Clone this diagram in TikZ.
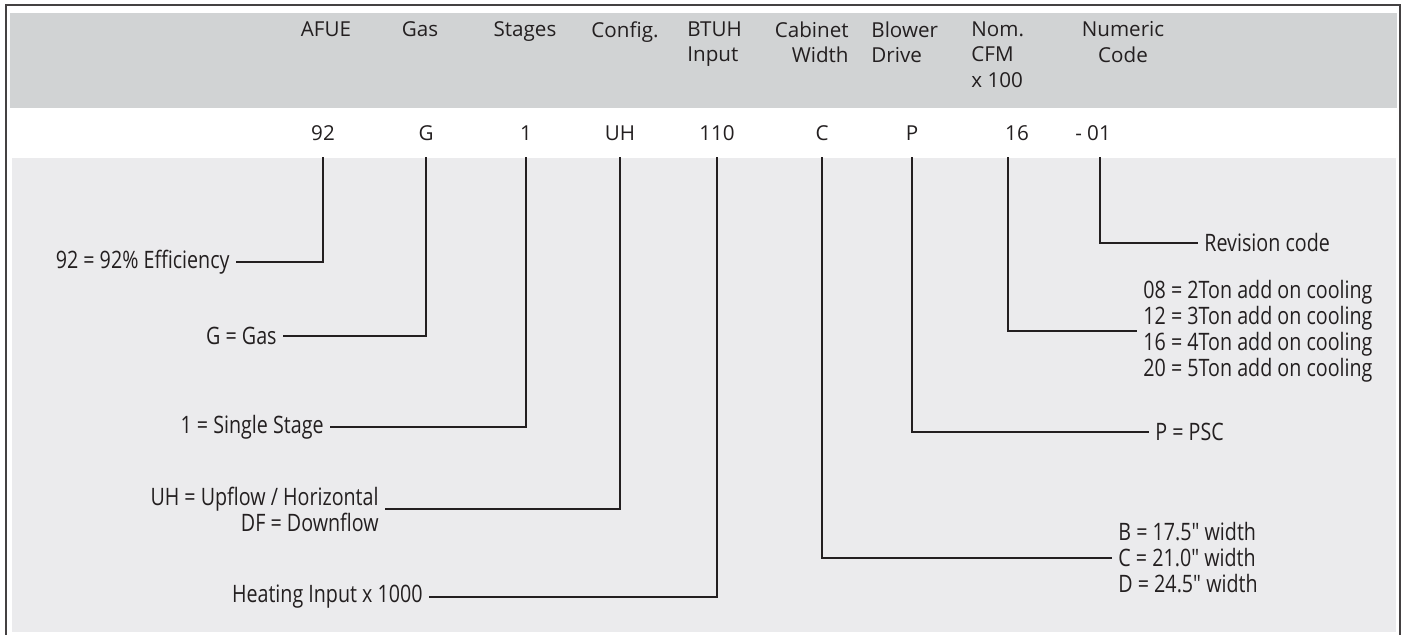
\documentclass[tikz,border=0pt]{standalone}
\usepackage{fontspec}
\setmainfont{Open Sans}
\newfontfamily\narrowfont[FakeStretch=0.82]{Open Sans}
\definecolor{headgray}{HTML}{D1D3D4}
\definecolor{bodygray}{HTML}{EBEBED}
\definecolor{ink}{HTML}{231F20}
\begin{document}
\begin{tikzpicture}[x=0.5pt,y=-0.5pt,
		head/.style={anchor=north,inner sep=0pt,text=ink,font=\fontsize{10.3}{12.8}\selectfont},
		code/.style={inner sep=0pt,minimum height=24pt,text=ink,font=\fontsize{10.3}{12}\selectfont},
		note/.style={inner sep=3pt,text=ink,font=\narrowfont\fontsize{12}{13}\selectfont},
		lead/.style={draw=ink,line width=1.2pt}]
			\useasboundingbox (0,0) rectangle (1406,635);
			\fill [headgray] (10,13) rectangle (1397,108);
			\fill [bodygray] (12,158) rectangle (1396,632);
			\draw [ink!85,line width=1.1pt] (6,635) -- (6,5) -- (1400,5) -- (1400,635);
			\node [head] (hAFUE) at (326,21) {AFUE};
			\node [head] (hGas) at (420,21) {Gas};
			\node [head] (hStages) at (525,21) {Stages};
			\node [head] (hConfig) at (625,21) {Config.};
			\node [head,anchor=north west,align=left] (hBTUH) at (687,21) {BTUH\\Input};
			\node [head,anchor=north east,align=right] (hCab) at (849,21) {Cabinet\\Width};
			\node [head,anchor=north west,align=left] (hBlower) at (871,21) {Blower\\Drive};
			\node [head,anchor=north west,align=left] (hNom) at (971,21) {Nom.\\CFM\\x 100};
			\node [head,align=center] (hNum) at (1123,21) {Numeric\\Code};
			\node [code] (c92) at (323,133) {92};
			\node [code] (cG) at (426,133) {G};
			\node [code] (c1) at (526,133) {1};
			\node [code] (cUH) at (620,133) {UH};
			\node [code] (c110) at (717,133) {110};
			\node [code] (cC) at (822,133) {C};
			\node [code] (cP) at (912,133) {P};
			\node [code] (c16) at (1017,133) {16};
			\node [code] (c01) at (1093,133) {- 01};
			\node [note,anchor=east] (l92) at (236,262) {92 = 92\% Efficiency};
			\node [note,anchor=east] (lG) at (283,336) {G = Gas};
			\node [note,anchor=east] (l1) at (330,427) {1 = Single Stage};
			\node [note,anchor=east,align=right] (lUH) at (385,509) {UH = Upflow / Horizontal\\DF = Downflow};
			\node [note,anchor=east] (l110) at (429,597) {Heating Input x 1000};
			\node [note,anchor=west,align=left] (lC) at (1112,558) {B = 17.5" width\\C = 21.0" width\\D = 24.5" width};
			\node [note,anchor=west] (lP) at (1149,432) {P = PSC};
			\node [note,anchor=west,align=left] (l16) at (1137,331) {08 = 2Ton add on cooling\\12 = 3Ton add on cooling\\16 = 4Ton add on cooling\\20 = 5Ton add on cooling};
			\node [note,anchor=west] (l01) at (1198,243) {Revision code};
			\draw [lead] (c92.south) |- (l92.east);
			\draw [lead] (cG.south) |- (lG.east);
			\draw [lead] (c1.south) |- (l1.east);
			\draw [lead] (cUH.south) |- (lUH.east);
			\draw [lead] (c110.south) |- (l110.east);
			\draw [lead] (cC.south) |- (lC.west);
			\draw [lead] (cP.south) |- (lP.west);
			\draw [lead] ([xshift=-4.5pt]c16.south) |- (l16.west);
			\draw [lead] ([xshift=3.5pt]c01.south) |- (l01.west);
		\end{tikzpicture}
\end{document}
